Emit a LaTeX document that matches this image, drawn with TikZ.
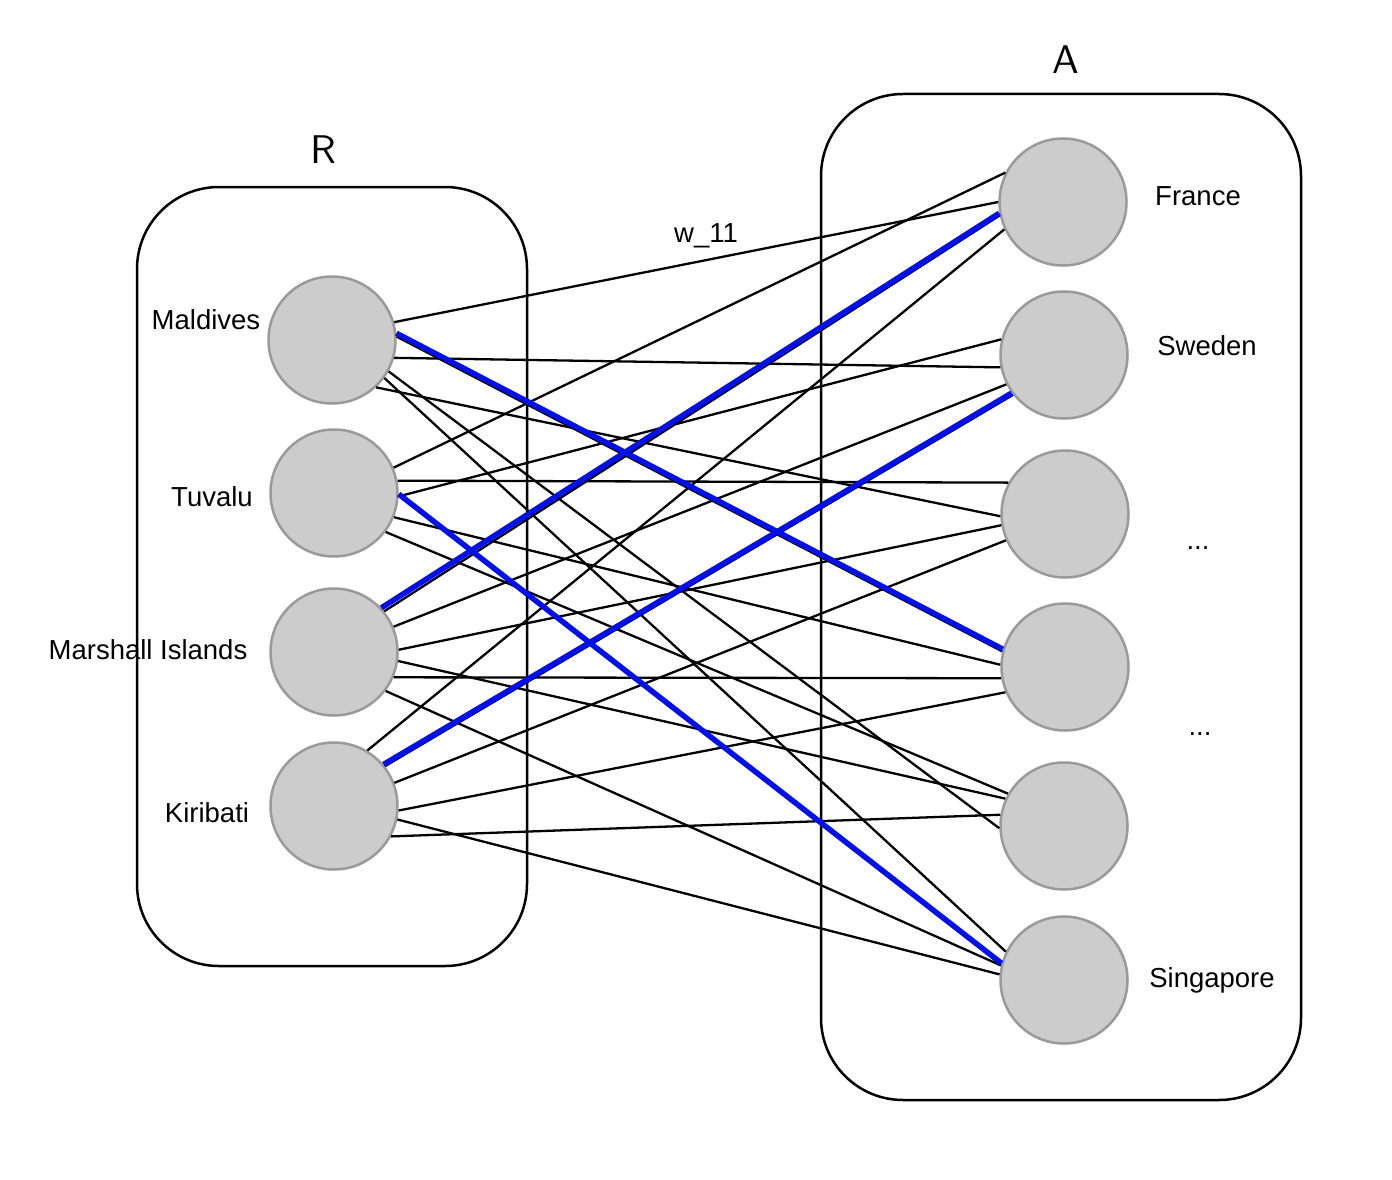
\documentclass[tikz,border=0pt]{standalone}
\usepackage{fontspec}
\setmainfont{Liberation Sans}
\newfontfamily\setnamefont{lmsans10-regular.otf}
\definecolor{nodefill}{HTML}{CCCCCC}
\definecolor{nodeline}{HTML}{9A9A9A}
\definecolor{matchblue}{HTML}{0010E6}
\begin{document}
\begin{tikzpicture}[x=1pt,y=-1pt,
  agent/.style={circle,minimum size=127pt,inner sep=0pt,draw=nodeline,line width=2.5pt,fill=nodefill},
  groupbox/.style={draw=black,line width=2.5pt,rounded corners=82pt,inner sep=0pt},
  lbl/.style={anchor=base,inner sep=0pt,font=\fontsize{27.5}{32}\selectfont},
  setname/.style={anchor=base,inner sep=0pt,font=\setnamefont\fontsize{40}{44}\selectfont},
  edge/.style={draw=black,line width=2.3pt},
  matched/.style={draw=matchblue,line width=5.5pt}]
\path[use as bounding box] (0,0) rectangle (1392,1180);

% the two sets
\node[groupbox,minimum width=390pt,minimum height=779pt] (Rbox) at (332,576.5) {};
\node[groupbox,minimum width=480pt,minimum height=1006pt] (Abox) at (1061,597) {};
\node[setname] (Rname) at (323,164) {R};
\node[setname] (Aname) at (1066,74) {A};

% left agents
\node[agent] (M)  at (332,340) {};
\node[agent] (T)  at (334,493) {};
\node[agent] (MI) at (334,652) {};
\node[agent] (K)  at (334,806) {};
% right agents
\node[agent] (F)  at (1063,202) {};
\node[agent] (S)  at (1064,355) {};
\node[agent] (D1) at (1065,514) {};
\node[agent] (D2) at (1065,667) {};
\node[agent] (D3) at (1064,826) {};
\node[agent] (G)  at (1064,980) {};

% labels
\node[lbl] (lM)  at (206,329) {Maldives};
\node[lbl] (lT)  at (212,506) {Tuvalu};
\node[lbl] (lMI) at (148,659) {Marshall Islands};
\node[lbl] (lK)  at (207,822) {Kiribati};
\node[lbl] (lF)  at (1198,205) {France};
\node[lbl] (lS)  at (1207,355) {Sweden};
\node[lbl] (lD1) at (1198,549) {...};
\node[lbl] (lD2) at (1200,735) {...};
\node[lbl] (lG)  at (1212,987) {Singapore};
\node[lbl] (w)   at (706,242) {w\_11};

% weighted edges
\draw[edge] (M.16)  -- (F.180);
\draw[edge] (M.-16) -- (S.191);
\draw[edge] (M.-47) -- (D1.182);
\draw[edge] (M.3)   -- (D2.166);
\draw[edge] (M.-29) -- (D3.182);
\draw[edge] (M.-36) -- (G.154);

\draw[edge] (T.23)  -- (F.153);
\draw[edge] (T.-3)  -- (S.166);
\draw[edge] (T.11)  -- (D1.151);
\draw[edge] (T.-22) -- (D2.178);
\draw[edge] (T.-37) -- (D3.150);

\draw[edge] (MI.39)  -- (F.192);
\draw[edge] (MI.23)  -- (S.207);
\draw[edge] (MI.2)   -- (D1.190);
\draw[edge] (MI.-23) -- (D2.190);
\draw[edge] (MI.-8)  -- (D3.155);
\draw[edge] (MI.-37) -- (G.167);

\draw[edge] (K.59)  -- (F.205);
\draw[edge] (K.38)  -- (S.218);
\draw[edge] (K.21)  -- (D1.204);
\draw[edge] (K.-4)  -- (D2.203);
\draw[edge] (K.-28) -- (D3.170);
\draw[edge] (K.-12) -- (G.175);

% matching
\draw[matched] (M.6)   -- (D2.164);
\draw[matched] (T.-1)  -- (G.165);
\draw[matched] (MI.43) -- (F.190);
\draw[matched] (K.40)  -- (S.216);
\end{tikzpicture}
\end{document}
